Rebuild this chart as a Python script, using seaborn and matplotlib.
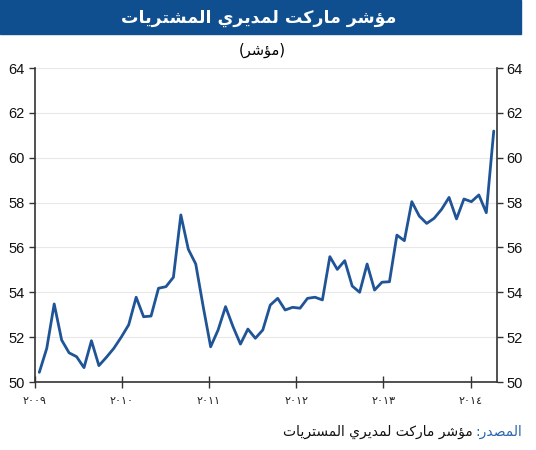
import matplotlib
matplotlib.use("Agg")
import matplotlib.pyplot as plt
from matplotlib.patches import Rectangle
from matplotlib.transforms import ScaledTranslation
import numpy as np
import pandas as pd
import seaborn as sns

# monthly PMI readings
pmi = [50.43, 51.5, 53.48, 51.87, 51.3, 51.13, 50.64, 51.84, 50.73, 51.1,
       51.5, 52.0, 52.55, 53.78, 52.91, 52.94, 54.18, 54.25, 54.67, 57.45,
       55.92, 55.26, 53.36, 51.57, 52.32, 53.36, 52.47, 51.69, 52.36, 51.95,
       52.32, 53.43, 53.73, 53.21, 53.33, 53.29, 53.73, 53.78, 53.66, 55.59,
       55.02, 55.41, 54.28, 54.0, 55.26, 54.1, 54.45, 54.47, 56.55, 56.3,
       58.04, 57.4, 57.07, 57.3, 57.7, 58.23, 57.27, 58.16, 58.04, 58.34,
       57.55, 61.19]
year_labels = ["٢٠٠٩", "٢٠١٠", "٢٠١١", "٢٠١٢", "٢٠١٣", "٢٠١٤"]
y_ticks = [50, 52, 54, 56, 58, 60, 62, 64]

title_txt = "مؤشر ماركت لمديري المشتريات"
unit_txt = "(مؤشر)"
src_lbl = "المصدر:"
src_txt = "مؤشر ماركت لمديري المستريات"

# matplotlib has no arabic shaping, so do it by hand
FORMS = {
    'ا': ('\uFE8D', '\uFE8E', None, None),
    'ؤ': ('\uFE85', '\uFE86', None, None),
    'ر': ('\uFEAD', '\uFEAE', None, None),
    'د': ('\uFEA9', '\uFEAA', None, None),
    'م': ('\uFEE1', '\uFEE2', '\uFEE3', '\uFEE4'),
    'ش': ('\uFEB5', '\uFEB6', '\uFEB7', '\uFEB8'),
    'س': ('\uFEB1', '\uFEB2', '\uFEB3', '\uFEB4'),
    'ك': ('\uFED9', '\uFEDA', '\uFEDB', '\uFEDC'),
    'ت': ('\uFE95', '\uFE96', '\uFE97', '\uFE98'),
    'ل': ('\uFEDD', '\uFEDE', '\uFEDF', '\uFEE0'),
    'ي': ('\uFEF1', '\uFEF2', '\uFEF3', '\uFEF4'),
    'ص': ('\uFEB9', '\uFEBA', '\uFEBB', '\uFEBC'),
}


def shape(s):
    out = []
    for i, c in enumerate(s):
        if c not in FORMS:
            out.append(c)
            continue
        prev = s[i - 1] if i > 0 else ''
        nxt = s[i + 1] if i + 1 < len(s) else ''
        jp = prev in FORMS and FORMS[prev][2] is not None
        jn = FORMS[c][2] is not None and nxt in FORMS
        f = FORMS[c]
        if jp and jn:
            out.append(f[3])
        elif jp:
            out.append(f[1])
        elif jn:
            out.append(f[2])
        else:
            out.append(f[0])
    vis = ''.join(reversed(out))
    return vis.translate(str.maketrans('()', ')('))


sns.set_theme(style="white")
plt.rcParams['font.family'] = ['Liberation Sans', 'DejaVu Sans']

df = pd.DataFrame({"m": np.arange(len(pmi)), "pmi": pmi})

W, H = 536, 450
fig = plt.figure(figsize=(W / 100, H / 100), dpi=100)
ax = fig.add_axes([34.5 / W, 1 - 382 / H, (497 - 34.5) / W, (382 - 68) / H])

sns.lineplot(data=df, x="m", y="pmi", ax=ax, color="#1f5596", lw=2.0)

step = 7.45
x0 = (34.5 - 39.3) / step
x1 = (497 - 39.3) / step
ax.set_xlim(x0, x1)
ax.set_ylim(50, 64)
ax.set_yticks(y_ticks)
ax.set_yticklabels([str(v) for v in y_ticks], fontsize=10.5, color="#111111")
yr = 87.2 / step
ax.set_xticks([x0 + k * yr for k in range(len(year_labels))])
ax.set_xticklabels(year_labels, fontsize=8, color="#222222",
                   family=['DejaVu Sans'])
shift = ScaledTranslation(4 / 100, 0, fig.dpi_scale_trans)
for t in ax.get_xticklabels():
    t.set_transform(t.get_transform() + shift)
ax.set_xlabel("")
ax.set_ylabel("")

ax.yaxis.grid(True, color="#e8e8e8", lw=0.8)
ax.xaxis.grid(False)
ax.tick_params(axis="y", left=True, right=True, labelleft=True,
               labelright=True, direction="out", length=4, width=1,
               color="#333333", pad=3)
ax.tick_params(axis="x", bottom=True, direction="inout", length=8, width=1,
               color="#333333", pad=6)
for s in ["left", "right", "bottom"]:
    ax.spines[s].set_color("#333333")
    ax.spines[s].set_linewidth(1.2)
ax.spines["top"].set_visible(False)

# header band
fig.patches.append(Rectangle((0, 1 - 34 / H), 521 / W, 34 / H,
                             transform=fig.transFigure, color="#0f4f8f",
                             zorder=0))
fig.text(259 / W, 1 - 18 / H, shape(title_txt), color="white", fontsize=12.5,
         fontweight="bold", ha="center", va="center", family=['DejaVu Sans'])
fig.text(262 / W, 1 - 50 / H, shape(unit_txt), color="black", fontsize=10.5,
         ha="center", va="center", family=['DejaVu Sans'])

# source line, label in blue then the rest to its left
lbl = fig.text(522 / W, 1 - 432 / H, shape(src_lbl), color="#2a64ad",
               fontsize=10, ha="right", va="center", family=['DejaVu Sans'])
ax.annotate(shape(src_txt), xy=(0, 0.5), xycoords=lbl, xytext=(-2, 0),
            textcoords="offset points", ha="right", va="center",
            fontsize=10, color="#111111", family=['DejaVu Sans'],
            annotation_clip=False)

fig.savefig("out.png", dpi=100)
